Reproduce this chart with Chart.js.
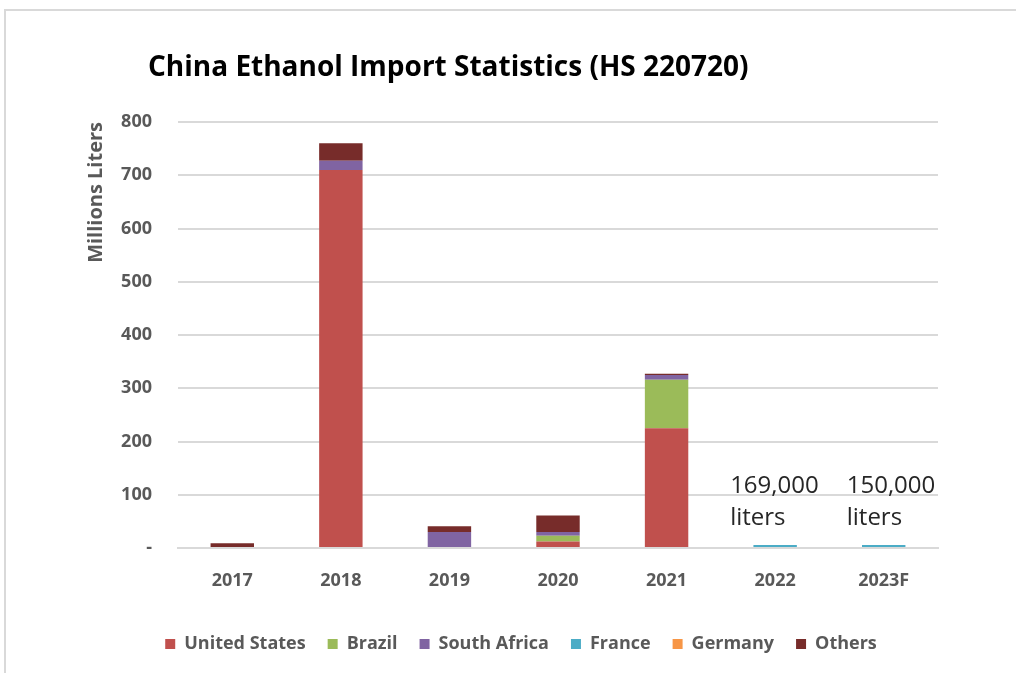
<!DOCTYPE html>
<html>
<head>
<meta charset="utf-8">
<script src="https://cdn.jsdelivr.net/npm/chart.js@4.4.1/dist/chart.umd.min.js"></script>
<style>
  html, body { margin: 0; padding: 0; background: #fff; }
  #wrap { position: relative; width: 1016px; height: 673px; overflow: hidden; }
  #frame { position: absolute; left: 4px; top: 9px; width: 1100px; height: 800px; border: 2px solid #d9d9d9; box-sizing: border-box; }
  canvas { position: absolute; left: 0; top: 0; }
</style>
</head>
<body>
<div id="wrap">
  <div id="frame"></div>
  <canvas id="importChart" width="1016" height="673"></canvas>
</div>
<script>
const categories = ["2017", "2018", "2019", "2020", "2021", "2022", "2023F"];
const unitedStates = [0, 710, 0, 12, 225, 0, 0];
const brazil = [0, 0, 0, 11, 91, 0, 0];
const southAfrica = [0, 17, 30, 7, 9, 0, 0];
const france = [null, null, null, null, null, 0.169, 0.15];
const germany = [0, 0, 0, 0, 0, 0, 0];
const others = [9, 33, 11, 31, 2, 0, 0];
const noteLabels = ["2022", "2023F"];
const noteLines = [["169,000", "liters"], ["150,000", "liters"]];

const chartTitle = "China Ethanol Import Statistics (HS 220720)";
const grayText = "#595959";

// titre + annotations dessinés sur le canvas
const textPlugin = {
  id: "textPlugin",
  afterLayout(chart) {
    // décale la légende un peu à droite comme dans l'original
    chart.legend.left += 12;
    chart.legend.right += 12;
  },
  afterDraw(chart) {
    const ctx = chart.ctx;
    ctx.save();
    ctx.fillStyle = "#000";
    ctx.font = "bold 28px 'Open Sans'";
    ctx.textBaseline = "middle";
    ctx.textAlign = "left";
    ctx.fillText(chartTitle, 148, 68);

    const xScale = chart.scales.x;
    ctx.font = "24px 'Open Sans'";
    ctx.fillStyle = "#262626";
    noteLabels.forEach((lab, i) => {
      const x = xScale.getPixelForValue(categories.indexOf(lab));
      const left = x - (i === 0 ? 45 : 37);
      ctx.fillText(noteLines[i][0], left, 486);
      ctx.fillText(noteLines[i][1], left, 518);
    });
    ctx.restore();
  },
};

function initChart() {
  const ctx = document.getElementById("importChart").getContext("2d");
  new Chart(ctx, {
    type: "bar",
    data: {
      labels: categories,
      datasets: [
        { label: "United States", data: unitedStates, backgroundColor: "#C0504D" },
        { label: "Brazil", data: brazil, backgroundColor: "#9BBB59" },
        { label: "South Africa", data: southAfrica, backgroundColor: "#8064A2" },
        { label: "France", data: france, backgroundColor: "#4BACC6", minBarLength: 3 },
        { label: "Germany", data: germany, backgroundColor: "#F79646" },
        { label: "Others", data: others, backgroundColor: "#772C2A" },
      ],
    },
    options: {
      responsive: false,
      animation: false,
      barPercentage: 0.8,
      categoryPercentage: 0.5,
      layout: { padding: { left: 80, right: 78, top: 122, bottom: 10 } },
      plugins: {
        title: { display: false },
        tooltip: { enabled: false },
        legend: {
          position: "bottom",
          labels: {
            boxWidth: 10,
            boxHeight: 10,
            padding: 22,
            color: grayText,
            font: { family: "'Open Sans'", size: 18, weight: "bold" },
          },
        },
      },
      scales: {
        x: {
          stacked: true,
          grid: { display: false },
          border: { color: "#d9d9d9", width: 2 },
          ticks: {
            padding: 14,
            color: grayText,
            font: { family: "'Open Sans'", size: 18, weight: "bold" },
          },
          afterFit(axis) { axis.height = 65; },
        },
        y: {
          stacked: true,
          min: 0,
          max: 800,
          grid: { color: "#d9d9d9", lineWidth: 2, drawTicks: false },
          border: { display: false },
          ticks: {
            stepSize: 100,
            padding: 26,
            color: grayText,
            font: { family: "'Open Sans'", size: 18, weight: "bold" },
            callback: (v) => (v === 0 ? "-" : v),
          },
          title: {
            display: true,
            text: "Millions Liters",
            align: "end",
            color: grayText,
            padding: { top: 4, bottom: 0 },
            font: { family: "'Open Sans'", size: 20, weight: "bold" },
          },
          afterFit(axis) { axis.width = 98; },
        },
      },
    },
    plugins: [textPlugin],
  });
}

document.addEventListener("DOMContentLoaded", initChart);
</script>
</body>
</html>
